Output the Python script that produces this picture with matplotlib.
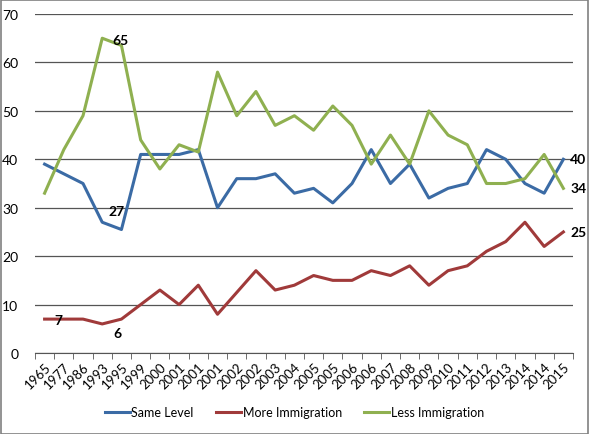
import matplotlib
matplotlib.use('Agg')
import matplotlib.pyplot as plt
from matplotlib.patches import Rectangle
import numpy as np

# survey years (category axis, repeated years are separate polls)
years = ['1965', '1977', '1986', '1993', '1995', '1999', '2000', '2001', '2001', '2001',
         '2002', '2002', '2003', '2004', '2005', '2005', '2006', '2006', '2007', '2008',
         '2009', '2010', '2011', '2012', '2013', '2014', '2014', '2015']

same_level = [39, 37, 35, 27, 25.5, 41, 41, 41, 42, 30,
              36, 36, 37, 33, 34, 31, 35, 42, 35, 39,
              32, 34, 35, 42, 40, 35, 33, 40]
more_immigration = [7, 7, 7, 6, 7, 10, 13, 10, 14, 8,
                    12.5, 17, 13, 14, 16, 15, 15, 17, 16, 18,
                    14, 17, 18, 21, 23, 27, 22, 25]
less_immigration = [33, 42, 49, 65, 63.5, 44, 38, 43, 41.5, 58,
                    49, 54, 47, 49, 46, 51, 47, 39, 45, 39,
                    50, 45, 43, 35, 35, 36, 41, 34]

plt.rcParams['font.family'] = ['Lato', 'DejaVu Sans']

fig = plt.figure(figsize=(5.89, 4.35), dpi=100)
ax = fig.add_axes([0.0594, 0.1862, 0.9134, 0.7793])

x = np.arange(len(years))
ax.plot(x, same_level, color='#3B6BA5', lw=2.2, label='Same Level')
ax.plot(x, more_immigration, color='#A03A3A', lw=2.2, label='More Immigration')
ax.plot(x, less_immigration, color='#8FB050', lw=2.2, label='Less Immigration')

# data labels
lab = dict(fontsize=10, color='black', ha='center', va='center')
ax.text(3.93, 64.7, '65', fontweight='bold', **lab)
ax.text(3.72, 29.3, '27', fontweight='bold', **lab)
ax.text(0.7, 6.8, '7', fontweight='bold', **lab)
ax.text(3.77, 4.1, '6', fontweight='bold', **lab)
ax.text(27.35, same_level[-1], '40', fontsize=10, fontweight='bold', ha='left', va='center')
ax.text(27.35, less_immigration[-1], '34', fontsize=10, fontweight='bold', ha='left', va='center')
ax.text(27.35, more_immigration[-1], '25', fontsize=10, fontweight='bold', ha='left', va='center')

ax.set_xlim(-0.5, len(years) - 0.5)
ax.set_ylim(0, 70)
ax.set_yticks(range(0, 71, 10))
ax.yaxis.grid(True, color='#555555', lw=0.9)
ax.set_axisbelow(True)
ax.tick_params(axis='y', length=0, pad=12, labelsize=10)

ax.set_xticks(x)
ax.set_xticklabels(years, rotation=45, ha='right', rotation_mode='anchor', fontsize=9.5)
ax.tick_params(axis='x', which='major', length=0, pad=5)
ax.set_xticks(np.arange(-0.5, len(years), 1), minor=True)
ax.tick_params(axis='x', which='minor', length=4, color='#555555', direction='out')

for s in ['top', 'right', 'left']:
    ax.spines[s].set_visible(False)
ax.spines['bottom'].set_color('#555555')

fig.legend(loc='center', bbox_to_anchor=(0.5, 0.05), ncol=3, frameon=False,
           fontsize=9, handlelength=2.0, handletextpad=0.1, columnspacing=1.8)

fig.patches.append(Rectangle((0.001, 0.001), 0.997, 0.997, transform=fig.transFigure,
                             fill=False, edgecolor='#808080', lw=1.2))

fig.savefig('out.png', dpi=100)
